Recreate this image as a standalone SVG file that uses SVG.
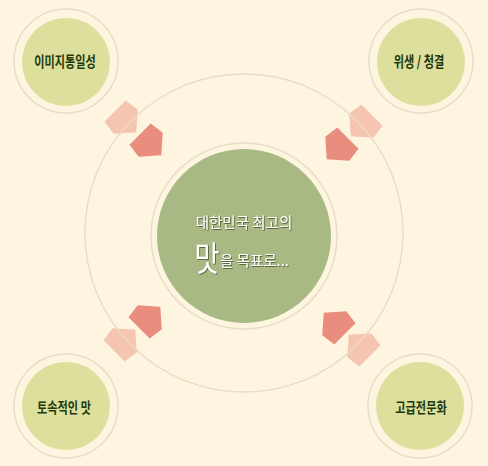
<svg xmlns="http://www.w3.org/2000/svg" xmlns:xlink="http://www.w3.org/1999/xlink" width="488" height="466" viewBox="0 0 488 466">
<style>
.bg{fill:#fdf5df}
.ring{fill:none;stroke:#e7dcc5;stroke-width:1.4}
.corner{fill:#dde09c}
.ctext{font-family:"Noto Sans CJK KR","Noto Sans",sans-serif;font-weight:bold;font-size:14.5px;fill:#20380c;text-anchor:middle}
.mtext{font-family:"Noto Sans CJK KR","Noto Sans",sans-serif;font-size:14.5px;fill:#ffffff}
.light{fill:#f5c5b1}
.dark{fill:#e98d7e}
</style>
<defs>
<polygon id="arr" points="-14,-15 1,-17 16,0 1,17 -14,15"/>
<filter id="sh" x="-20%" y="-20%" width="140%" height="140%">
<feDropShadow dx="0.8" dy="0.8" stdDeviation="0.7" flood-color="#3d4a2a" flood-opacity="0.9"/>
</filter>
</defs>
<rect class="bg" x="0" y="0" width="488" height="466"/>
<g id="connectors">
<use xlink:href="#arr" class="light" transform="translate(125,121) rotate(45)"/>
<use xlink:href="#arr" class="light" transform="translate(362,125) rotate(135)"/>
<use xlink:href="#arr" class="light" transform="translate(124,341) rotate(-45)"/>
<use xlink:href="#arr" class="light" transform="translate(360,346) rotate(-135)"/>
<circle class="ring" cx="244" cy="233" r="159"/>
<use xlink:href="#arr" class="dark" transform="translate(150,144) rotate(45)"/>
<use xlink:href="#arr" class="dark" transform="translate(338,148) rotate(135)"/>
<use xlink:href="#arr" class="dark" transform="translate(149,318) rotate(-45)"/>
<use xlink:href="#arr" class="dark" transform="translate(335,324) rotate(-135)"/>
</g>
<g id="center">
<circle class="ring" cx="244" cy="236" r="93"/>
<circle cx="244" cy="236" r="87" fill="#a9b983"/>
<g filter="url(#sh)">
<text class="mtext" x="244" y="228" text-anchor="middle">대한민국 최고의</text>
<text class="mtext" transform="translate(207,271) scale(0.8,1)" style="font-size:34px" text-anchor="middle">맛</text>
<text class="mtext" x="220" y="266">을 목표로...</text>
</g>
</g>
<g id="n1">
<circle class="ring" cx="66" cy="61" r="52"/>
<circle class="corner" cx="66" cy="62" r="44"/>
<text class="ctext" transform="translate(65,67) scale(0.77,1)">이미지통일성</text>
</g>
<g id="n2">
<circle class="ring" cx="421" cy="61" r="52"/>
<circle class="corner" cx="421" cy="62" r="44"/>
<text class="ctext" transform="translate(419,67) scale(0.77,1)">위생 / 청결</text>
</g>
<g id="n3">
<circle class="ring" cx="66" cy="406" r="52"/>
<circle class="corner" cx="66" cy="406" r="44"/>
<text class="ctext" transform="translate(64,413) scale(0.77,1)">토속적인 맛</text>
</g>
<g id="n4">
<circle class="ring" cx="420" cy="406" r="52"/>
<circle class="corner" cx="420" cy="406" r="44"/>
<text class="ctext" transform="translate(421,413) scale(0.77,1)">고급전문화</text>
</g>
</svg>
